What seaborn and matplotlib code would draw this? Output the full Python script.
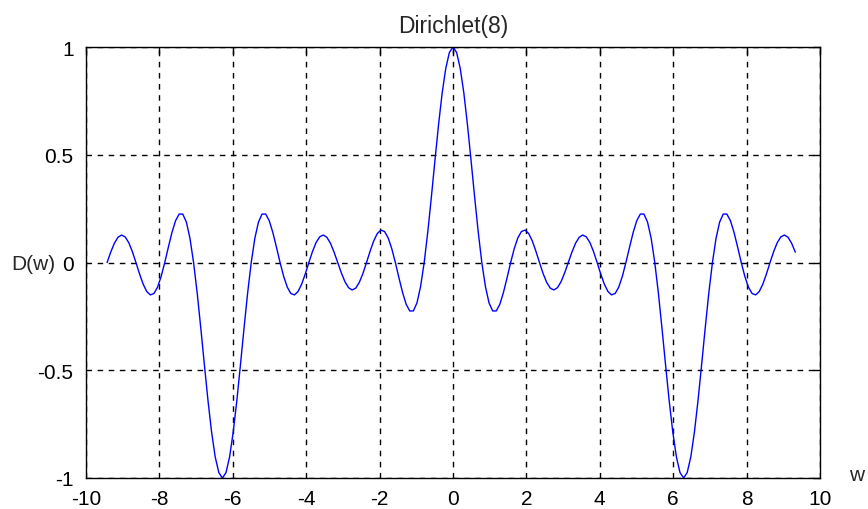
import numpy as np
import pandas as pd
import matplotlib
matplotlib.use("Agg")
import matplotlib.pyplot as plt
import seaborn as sns

w_pos = [0.000, 0.098, 0.196, 0.295, 0.393, 0.491, 0.589, 0.687, 0.785, 0.884,
         0.982, 1.080, 1.178, 1.276, 1.374, 1.473, 1.571, 1.669, 1.767, 1.865,
         1.963, 2.062, 2.160, 2.258, 2.356, 2.454, 2.553, 2.651, 2.749, 2.847,
         2.945, 3.043, 3.142, 3.240, 3.338, 3.436, 3.534, 3.632, 3.731, 3.829,
         3.927, 4.025, 4.123, 4.222, 4.320, 4.418, 4.516, 4.614, 4.712, 4.811,
         4.909, 5.007, 5.105, 5.203, 5.301, 5.400, 5.498, 5.596, 5.694, 5.792,
         5.890, 5.989, 6.087, 6.185, 6.283, 6.381, 6.480, 6.578, 6.676, 6.774,
         6.872, 6.970, 7.069, 7.167, 7.265, 7.363, 7.461, 7.560, 7.658, 7.756,
         7.854, 7.952, 8.050, 8.149, 8.247, 8.345, 8.443, 8.541, 8.639, 8.738,
         8.836, 8.934, 9.032, 9.130, 9.228, 9.327, 9.425]
d_pos = [1.0, 0.97488, 0.90177, 0.78706, 0.64073, 0.47529, 0.30449, 0.14199, 0.0, -0.11188,
         -0.18750, -0.22463, -0.22499, -0.19386, -0.13933, -0.07123, 0.0, 0.06456, 0.11434, 0.14378,
         0.15034, 0.13464, 0.10022, 0.05292, 0.0, -0.05081, -0.09237, -0.11905, -0.12745, -0.11675,
         -0.08882, -0.04789, 0.0, 0.04789, 0.08882, 0.11675, 0.12745, 0.11905, 0.09237, 0.05081,
         0.0, -0.05292, -0.10022, -0.13464, -0.15034, -0.14378, -0.11434, -0.06456, 0.0, 0.07123,
         0.13933, 0.19386, 0.22499, 0.22463, 0.18750, 0.11188, 0.0, -0.14199, -0.30449, -0.47529,
         -0.64073, -0.78706, -0.90177, -0.97488, -1.0, -0.97488, -0.90177, -0.78706, -0.64073, -0.47529,
         -0.30449, -0.14199, 0.0, 0.11188, 0.18750, 0.22463, 0.22499, 0.19386, 0.13933, 0.07123,
         0.0, -0.06456, -0.11434, -0.14378, -0.15034, -0.13464, -0.10022, -0.05292, 0.0, 0.05081,
         0.09237, 0.11905, 0.12745, 0.11675, 0.08882, 0.04789, 0.0]

x_ticks = [-10, -8, -6, -4, -2, 0, 2, 4, 6, 8, 10]
x_tick_labels = ["-10", "-8", "-6", "-4", "-2", "0", "2", "4", "6", "8", "10"]
y_ticks = [-1, -0.5, 0, 0.5, 1]
y_tick_labels = ["-1", "-0.5", "0", "0.5", "1"]

# curve is symmetric: mirror the half (right end stops one sample early as in picture)
w = [-v for v in reversed(w_pos[1:])] + w_pos[:-1]
d = list(reversed(d_pos[1:])) + d_pos[:-1]
df = pd.DataFrame({"w": w, "D": d})

sns.set_style("white")
plt.rcParams["font.family"] = ["Liberation Sans", "DejaVu Sans"]

fig = plt.figure(figsize=(8.68, 5.10), dpi=100)
ax = fig.add_axes([86/868, 1 - 479/510, (820 - 86)/868, (479 - 48)/510])

sns.lineplot(data=df, x="w", y="D", ax=ax, color="#0000ff", linewidth=1.0,
             sort=False, estimator=None)

ax.set_xlim(-10, 10)
ax.set_ylim(-1, 1)
ax.set_xticks(x_ticks)
ax.set_xticklabels(x_tick_labels)
ax.set_yticks(y_ticks)
ax.set_yticklabels(y_tick_labels)
ax.tick_params(direction="in", length=5, width=1, colors="black",
               labelsize=15, pad=9, top=True, right=True)
ax.tick_params(axis="x", pad=8)
ax.grid(True, color="black", linestyle=(0, (4, 4)), linewidth=1.0)
for s in ax.spines.values():
    s.set_visible(True)
    s.set_color("black")
    s.set_linewidth(1.0)

ax.set_title("Dirichlet(8)", fontsize=16.5, pad=11)
ax.set_xlabel("")
ax.set_ylabel("")
fig.text(33/868, 1 - 264/510, "D(w)", fontsize=15, ha="center", va="center")
fig.text(857/868, 1 - 476/510, "w", fontsize=15, ha="center", va="center")

fig.savefig("out.png", dpi=100, facecolor="white")
